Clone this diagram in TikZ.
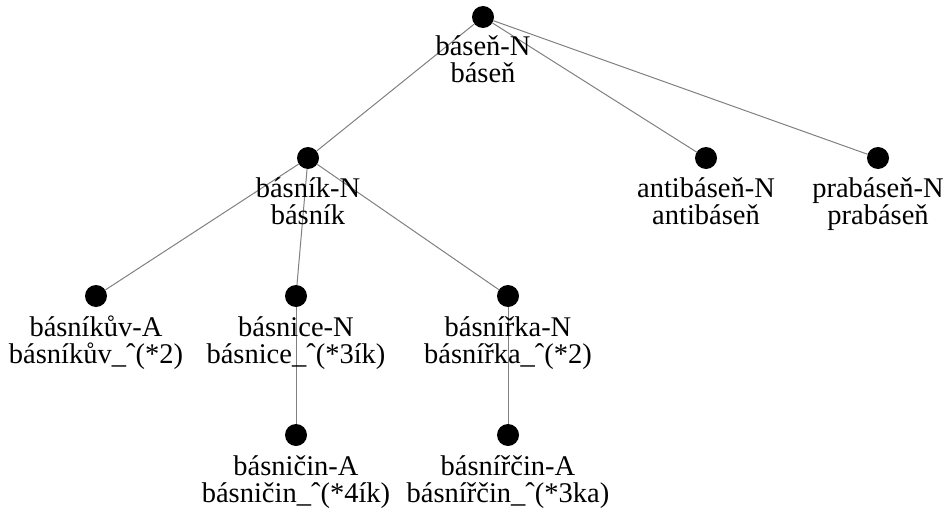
\documentclass[tikz,border=0pt]{standalone}
\usepackage{fontspec}
\setmainfont{Liberation Serif}
\begin{document}
\begin{tikzpicture}[x=1pt,y=-1pt,
  vertex/.style={circle,fill=black,inner sep=0pt,minimum size=22pt},
  lbl/.style={anchor=base,inner sep=0pt,font=\fontsize{28.5}{27}\selectfont},
  edge/.style={draw=gray,line width=1pt}]
\useasboundingbox (0,0) rectangle (952,508);

% tree vertices
\node[vertex] (r)   at (483,17)  {};
\node[vertex] (bk)  at (308,158) {};
\node[vertex] (ab)  at (706,158) {};
\node[vertex] (pb)  at (878,158) {};
\node[vertex] (bkv) at (96,296)  {};
\node[vertex] (bc)  at (296,296) {};
\node[vertex] (bka) at (508,296) {};
\node[vertex] (bci) at (296,435) {};
\node[vertex] (bkc) at (508,435) {};

% connectors between vertex centres
\draw[edge] (r) -- (bk);
\draw[edge] (r) -- (ab);
\draw[edge] (r) -- (pb);
\draw[edge] (bk) -- (bkv);
\draw[edge] (bk) -- (bc);
\draw[edge] (bk) -- (bka);
\draw[edge] (bc) -- (bci);
\draw[edge] (bka) -- (bkc);

% labels: lemma on the first line, segmentation below
\node[lbl] (r1)   at (483,56)  {báseň-N};
\node[lbl] (r2)   at (483,83)  {báseň};
\node[lbl] (bk1)  at (308,197) {básník-N};
\node[lbl] (bk2)  at (308,224) {básník};
\node[lbl] (ab1)  at (706,197) {antibáseň-N};
\node[lbl] (ab2)  at (706,224) {antibáseň};
\node[lbl] (pb1)  at (878,197) {prabáseň-N};
\node[lbl] (pb2)  at (878,224) {prabáseň};
\node[lbl] (bkv1) at (96,336)  {básníkův-A};
\node[lbl] (bkv2) at (96,363)  {básníkův\_ˆ(*2)};
\node[lbl] (bc1)  at (296,336) {básnice-N};
\node[lbl] (bc2)  at (296,363) {básnice\_ˆ(*3ík)};
\node[lbl] (bka1) at (508,336) {básnířka-N};
\node[lbl] (bka2) at (508,363) {básnířka\_ˆ(*2)};
\node[lbl] (bci1) at (296,475) {básničin-A};
\node[lbl] (bci2) at (296,502) {básničin\_ˆ(*4ík)};
\node[lbl] (bkc1) at (508,475) {básnířčin-A};
\node[lbl] (bkc2) at (508,502) {básnířčin\_ˆ(*3ka)};
\end{tikzpicture}
\end{document}
